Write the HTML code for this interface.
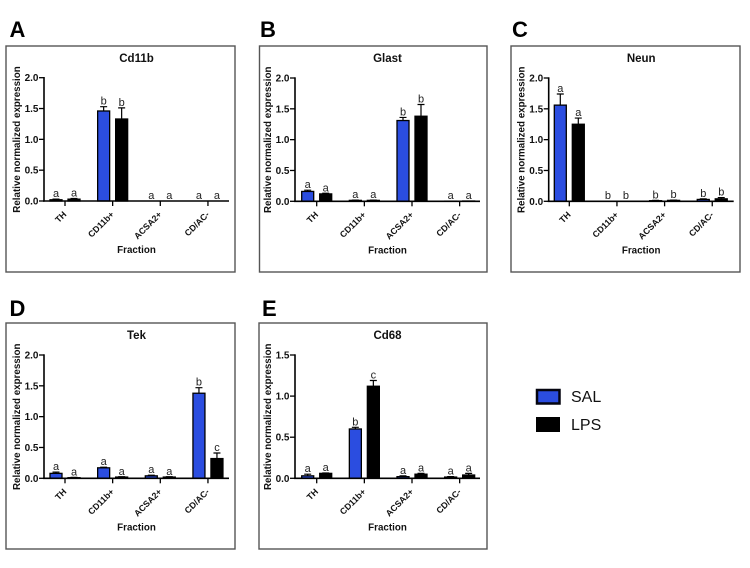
<!DOCTYPE html>
<html lang="en">
<head>
<meta charset="utf-8">
<title>Relative normalized expression by fraction</title>
<style>
html,body{margin:0;padding:0;background:#fff;width:750px;height:568px;overflow:hidden}
svg{display:block;font-family:"Liberation Sans",Arial,sans-serif}
</style>
</head>
<body>
<svg id="figure" width="750" height="568" viewBox="0 0 750 568" xmlns="http://www.w3.org/2000/svg">
  <rect x="0" y="0" width="750" height="568" fill="#fff"/>
  <g>
    <g>
      <rect x="537" y="390" width="22.500" height="13.500" fill="#2b4de0" stroke="#050510" stroke-width="2.500"/>
      <text x="571" y="402" font-size="16" fill="#111">SAL</text>
    </g>
    <g>
      <rect x="536" y="417" width="24" height="15" fill="#000"/>
      <text x="571" y="430" font-size="16" fill="#111">LPS</text>
    </g>
  </g>
</svg>
<script>
var categories = ['TH', 'CD11b+', 'ACSA2+', 'CD/AC-'];
var seriesNames = ['SAL', 'LPS'];
var ticksTwo = [0, 0.5, 1, 1.5, 2];
var ticksOneFive = [0, 0.5, 1, 1.5];
var tickLabelsTwo = ['0.0', '0.5', '1.0', '1.5', '2.0'];
var tickLabelsOneFive = ['0.0', '0.5', '1.0', '1.5'];

var cd11bSal = [0.02, 1.46, 0, 0];
var cd11bSalErr = [0.01, 0.07, 0, 0];
var cd11bLps = [0.03, 1.33, 0, 0];
var cd11bLpsErr = [0.01, 0.18, 0, 0];
var cd11bSalLetters = ['a', 'b', 'a', 'a'];
var cd11bLpsLetters = ['a', 'b', 'a', 'a'];

var glastSal = [0.16, 0.015, 1.31, 0.003];
var glastSalErr = [0.02, 0.005, 0.05, 0];
var glastLps = [0.12, 0.015, 1.38, 0.005];
var glastLpsErr = [0.01, 0.005, 0.19, 0];
var glastSalLetters = ['a', 'a', 'b', 'a'];
var glastLpsLetters = ['a', 'a', 'b', 'a'];

var neunSal = [1.56, 0.002, 0.01, 0.03];
var neunSalErr = [0.18, 0, 0.005, 0.01];
var neunLps = [1.25, 0.002, 0.015, 0.04];
var neunLpsErr = [0.1, 0, 0.005, 0.02];
var neunSalLetters = ['a', 'b', 'b', 'b'];
var neunLpsLetters = ['a', 'b', 'b', 'b'];

var tekSal = [0.08, 0.17, 0.04, 1.38];
var tekSalErr = [0.02, 0.01, 0.01, 0.09];
var tekLps = [0.01, 0.02, 0.02, 0.32];
var tekLpsErr = [0.005, 0.005, 0.005, 0.09];
var tekSalLetters = ['a', 'a', 'a', 'b'];
var tekLpsLetters = ['a', 'a', 'a', 'c'];

var cd68Sal = [0.03, 0.6, 0.02, 0.015];
var cd68SalErr = [0.02, 0.02, 0.01, 0.005];
var cd68Lps = [0.06, 1.12, 0.05, 0.04];
var cd68LpsErr = [0.005, 0.07, 0.01, 0.02];
var cd68SalLetters = ['a', 'b', 'a', 'a'];
var cd68LpsLetters = ['a', 'c', 'a', 'a'];

var NS = 'http://www.w3.org/2000/svg';
var figure = document.getElementById('figure');

function make(parent, tag, props, content) {
  var el = document.createElementNS(NS, tag);
  for (var key in props) el.setAttribute(key, props[key]);
  if (content !== undefined) el.textContent = content;
  parent.appendChild(el);
  return el;
}

function drawPanel(p) {
  var slug = p.title.toLowerCase();
  var group = make(figure, 'g', {});
  
  

  var yScale = function (v) { return p.baseY - (v / p.yMax) * (p.baseY - p.topY); };
  var xScale = function (i) { return p.firstTick + i * 47.65; };

  var frame = make(group, 'rect', { x: p.boxX, y: p.boxY, width: p.boxW, height: p.boxH, fill: 'none', stroke: '#555', 'stroke-width': 1.4 });
  
  

  var panelLetter = make(group, 'text', { x: p.letterX, y: p.letterY, 'font-size': 22, 'font-weight': 'bold', fill: '#000' }, p.letter);
  
  

  var title = make(group, 'text', { x: p.axisX + 92.500, y: p.boxY + 16, 'font-size': 11.500, 'font-weight': 'bold', 'text-anchor': 'middle', fill: '#111' }, p.title);
  
  

  var yTitle = make(group, 'text', { x: 0, y: 0, 'font-size': 9.800, 'font-weight': 'bold', 'text-anchor': 'middle', fill: '#111', transform: 'translate(' + (p.axisX - 24) + ' ' + (p.baseY - 61.500) + ') rotate(-90)' }, 'Relative normalized expression');
  
  

  var xTitle = make(group, 'text', { x: p.axisX + 92.500, y: p.baseY + 52, 'font-size': 9.800, 'font-weight': 'bold', 'text-anchor': 'middle', fill: '#111' }, 'Fraction');
  
  

  categories.forEach(function (cat, i) {
    var center = xScale(i);
    seriesNames.forEach(function (series, s) {
      var value = s === 0 ? p.sal[i] : p.lps[i];
      var err = s === 0 ? p.salErr[i] : p.lpsErr[i];
      var label = s === 0 ? p.salLetters[i] : p.lpsLetters[i];
      var cx = center + (s === 0 ? -9 : 9);
      var top = yScale(value);
      var errTop = yScale(value + err);
      if (err > 0) {
        var stem = make(group, 'path', { d: 'M' + cx + ' ' + top + 'V' + errTop + 'M' + (cx - 3.500) + ' ' + errTop + 'H' + (cx + 3.500), fill: 'none', stroke: '#000', 'stroke-width': 1.2 });
        
        
      }
      var bar = make(group, 'rect', { x: cx - 6, y: top, width: 12, height: Math.max(p.baseY - top, 0), fill: s === 0 ? '#2b4de0' : '#000', stroke: '#000', 'stroke-width': 1.3 });
      
      
      var sig = make(group, 'text', { x: cx, y: errTop - 2, 'font-size': 11, 'text-anchor': 'middle', fill: '#222' }, label);
      
      
    });
    var tick = make(group, 'line', { x1: center, x2: center, y1: p.baseY, y2: p.baseY + 5, stroke: '#000', 'stroke-width': 1.3 });
    
    
    var tickLabel = make(group, 'text', { x: 0, y: 0, 'font-size': 8.800, 'font-weight': 'bold', 'text-anchor': 'end', fill: '#111', transform: 'translate(' + (center + 2) + ' ' + (p.baseY + 14) + ') rotate(-45)' }, cat);
    
    
  });

  var xAxis = make(group, 'line', { x1: p.axisX - 1, x2: p.axisX + 185, y1: p.baseY, y2: p.baseY, stroke: '#000', 'stroke-width': 1.6 });
  
  
  var yAxis = make(group, 'line', { x1: p.axisX, x2: p.axisX, y1: p.topY - 0.700, y2: p.baseY + 0.700, stroke: '#000', 'stroke-width': 1.6 });
  
  

  p.ticks.forEach(function (t, i) {
    var y = yScale(t);
    var yTick = make(group, 'line', { x1: p.axisX - 5, x2: p.axisX, y1: y, y2: y, stroke: '#000', 'stroke-width': 1.3 });
    
    
    var yLabel = make(group, 'text', { x: p.axisX - 5.500, y: y + 3.500, 'font-size': 10, 'font-weight': 'bold', 'text-anchor': 'end', fill: '#111' }, p.tickLabels[i]);
    
    
  });
}

drawPanel({ letter: 'A', title: 'Cd11b', sal: cd11bSal, salErr: cd11bSalErr, lps: cd11bLps, lpsErr: cd11bLpsErr, salLetters: cd11bSalLetters, lpsLetters: cd11bLpsLetters, ticks: ticksTwo, tickLabels: tickLabelsTwo, yMax: 2, boxX: 6, boxY: 46, boxW: 229, boxH: 226, axisX: 44, topY: 77.7, baseY: 201, firstTick: 65, letterX: 9.5, letterY: 37 });
drawPanel({ letter: 'B', title: 'Glast', sal: glastSal, salErr: glastSalErr, lps: glastLps, lpsErr: glastLpsErr, salLetters: glastSalLetters, lpsLetters: glastLpsLetters, ticks: ticksTwo, tickLabels: tickLabelsTwo, yMax: 2, boxX: 259.5, boxY: 46, boxW: 227.5, boxH: 226, axisX: 295, topY: 78, baseY: 201.3, firstTick: 316.7, letterX: 260, letterY: 37 });
drawPanel({ letter: 'C', title: 'Neun', sal: neunSal, salErr: neunSalErr, lps: neunLps, lpsErr: neunLpsErr, salLetters: neunSalLetters, lpsLetters: neunLpsLetters, ticks: ticksTwo, tickLabels: tickLabelsTwo, yMax: 2, boxX: 511, boxY: 46, boxW: 229, boxH: 226, axisX: 548.7, topY: 78, baseY: 201.3, firstTick: 569.3, letterX: 512, letterY: 37 });
drawPanel({ letter: 'D', title: 'Tek', sal: tekSal, salErr: tekSalErr, lps: tekLps, lpsErr: tekLpsErr, salLetters: tekSalLetters, lpsLetters: tekLpsLetters, ticks: ticksTwo, tickLabels: tickLabelsTwo, yMax: 2, boxX: 6, boxY: 323, boxW: 229, boxH: 226, axisX: 44, topY: 355, baseY: 478.3, firstTick: 65, letterX: 9.5, letterY: 316 });
drawPanel({ letter: 'E', title: 'Cd68', sal: cd68Sal, salErr: cd68SalErr, lps: cd68Lps, lpsErr: cd68LpsErr, salLetters: cd68SalLetters, lpsLetters: cd68LpsLetters, ticks: ticksOneFive, tickLabels: tickLabelsOneFive, yMax: 1.5, boxX: 259, boxY: 323, boxW: 228, boxH: 226, axisX: 295, topY: 355, baseY: 478.3, firstTick: 316.7, letterX: 262, letterY: 316 });
</script>
</body>
</html>
